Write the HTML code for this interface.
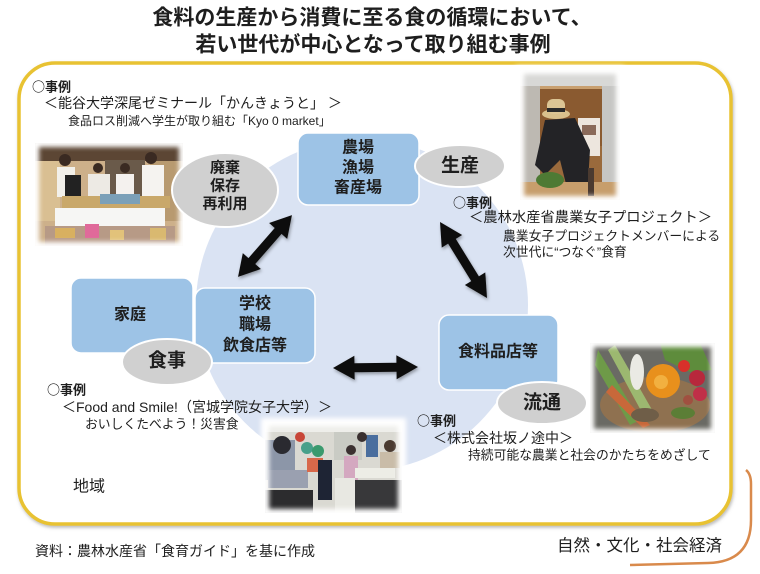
<!DOCTYPE html>
<html><head><meta charset="utf-8"><style>
html,body{margin:0;padding:0;background:#fff;}
body{width:760px;height:574px;overflow:hidden;}
svg{display:block;}
text{font-family:"Liberation Sans","Noto Sans CJK JP",sans-serif;fill:#1e1e1e;}
.b{font-weight:bold;}
.cj{font-family:"Noto Sans CJK JP",sans-serif;}
</style></head><body>
<svg width="760" height="574" viewBox="0 0 760 574" xmlns="http://www.w3.org/2000/svg">
<defs>
  <filter id="fb" x="-20%" y="-20%" width="140%" height="140%"><feGaussianBlur stdDeviation="3"/></filter>
  <filter id="fw" x="-20%" y="-20%" width="140%" height="140%"><feGaussianBlur stdDeviation="2.5"/></filter>
  <filter id="sh" x="-10%" y="-10%" width="120%" height="120%"><feDropShadow dx="1" dy="2" stdDeviation="1.5" flood-color="#000" flood-opacity="0.35"/></filter>
  <filter id="sh2" x="-5%" y="-5%" width="110%" height="110%"><feDropShadow dx="1" dy="2" stdDeviation="1.5" flood-color="#777" flood-opacity="0.5"/></filter>
  <clipPath id="c1"><rect x="35" y="143" width="148" height="103"/></clipPath>
  <clipPath id="c2"><rect x="520" y="70" width="100" height="130"/></clipPath>
  <clipPath id="c3"><rect x="590" y="343" width="125" height="90"/></clipPath>
  <clipPath id="c4"><rect x="265" y="422" width="137" height="91"/></clipPath>
</defs>

<!-- Title -->
<text class="b" x="372" y="18" font-size="21" text-anchor="middle" dominant-baseline="central">食料の生産から消費に至る食の循環において、</text>
<text class="b" x="373" y="45" font-size="21" text-anchor="middle" dominant-baseline="central">若い世代が中心となって取り組む事例</text>

<!-- orange curve -->
<path d="M746 470 Q751 474 751 484 L751 520 Q751 562 708 563 L630 565" fill="none" stroke="#D98A4C" stroke-width="2.5"/>

<!-- frame -->
<rect x="19" y="63" width="712" height="461" rx="36" ry="36" fill="#fff" stroke="#E8C230" stroke-width="3.5" filter="url(#sh2)"/>

<!-- big circle -->
<circle cx="362" cy="305" r="166" fill="#DAE3F3"/>

<!-- Photo 1 -->
<g clip-path="url(#c1)">
  <rect x="35" y="143" width="148" height="103" fill="#CDB08A"/>
  <rect x="35" y="143" width="148" height="18" fill="#5C4634"/>
  <rect x="35" y="161" width="25" height="60" fill="#D9BF92"/>
  <rect x="150" y="161" width="33" height="60" fill="#B89A70"/>
  <rect x="105" y="160" width="40" height="40" fill="#6A5A4A"/>
  <circle cx="65" cy="160" r="6" fill="#3a2a22"/>
  <rect x="57" y="167" width="18" height="30" fill="#F2F0EA"/>
  <rect x="65" y="175" width="16" height="26" fill="#222"/>
  <circle cx="98" cy="168" r="5" fill="#3a2a22"/>
  <rect x="88" y="174" width="22" height="25" fill="#EDEAE4"/>
  <circle cx="125" cy="168" r="5" fill="#3a2a22"/>
  <rect x="116" y="174" width="18" height="24" fill="#F4F1EE"/>
  <circle cx="151" cy="158" r="6" fill="#3a2a22"/>
  <rect x="142" y="165" width="22" height="36" fill="#F5F3F0"/>
  <rect x="62" y="196" width="108" height="12" fill="#C9A86A"/>
  <rect x="100" y="194" width="40" height="10" fill="#7BA0B8"/>
  <rect x="55" y="208" width="110" height="20" fill="#F6F6F4"/>
  <rect x="45" y="226" width="130" height="20" fill="#B79A86"/>
  <rect x="55" y="228" width="20" height="10" fill="#D8B060"/>
  <rect x="85" y="224" width="14" height="14" fill="#E06A9A"/>
  <rect x="110" y="230" width="14" height="10" fill="#E2C27A"/>
  <rect x="150" y="228" width="16" height="12" fill="#D9B970"/>
</g>
<rect x="35" y="143" width="148" height="103" fill="none" stroke="#fff" stroke-width="8" filter="url(#fw)"/>

<!-- Photo 2 -->
<g clip-path="url(#c2)">
  <rect x="520" y="70" width="100" height="130" fill="#B7B4AE"/>
  <rect x="520" y="70" width="100" height="16" fill="#D8D8D6"/>
  <rect x="540" y="86" width="62" height="60" fill="#8A5A30"/>
  <rect x="540" y="86" width="62" height="3" fill="#c9a070"/>
  <rect x="602" y="86" width="18" height="100" fill="#C6C6C4"/>
  <rect x="520" y="86" width="20" height="100" fill="#BDB9B2"/>
  <rect x="540" y="146" width="62" height="40" fill="#9A6A3C"/>
  <rect x="578" y="118" width="22" height="38" fill="#EDE6DE"/>
  <rect x="582" y="125" width="14" height="10" fill="#8a6a5a"/>
  <ellipse cx="556" cy="114" rx="14" ry="5" fill="#D9C08C"/>
  <rect x="547" y="99" width="18" height="15" rx="6" fill="#DCC594"/>
  <rect x="547" y="108" width="18" height="4" fill="#2a2a2a"/>
  <path d="M545 120 L575 118 L590 150 L588 182 L566 184 L560 160 L545 175 L535 165 Z" fill="#232326"/>
  <rect x="520" y="182" width="100" height="18" fill="#C79E6C"/>
  <ellipse cx="550" cy="180" rx="14" ry="8" fill="#4E7A34"/>
  <rect x="588" y="168" width="6" height="28" fill="#4a3a30"/>
</g>
<rect x="520" y="70" width="100" height="130" fill="none" stroke="#fff" stroke-width="8" filter="url(#fw)"/>

<!-- Photo 3 -->
<g clip-path="url(#c3)">
  <rect x="590" y="343" width="125" height="90" fill="#6A6A64"/>
  <ellipse cx="655" cy="405" rx="55" ry="28" fill="#8F7150"/>
  <path d="M598 350 L640 420 L630 425 L595 365 Z" fill="#6E9A48"/>
  <path d="M615 345 L655 415 L645 418 L608 350 Z" fill="#9CB870"/>
  <path d="M612 385 L650 425 L643 428 L606 392 Z" fill="#C8683A"/>
  <ellipse cx="637" cy="372" rx="7" ry="18" fill="#EAEAE4"/>
  <path d="M660 343 L700 343 L712 370 L690 372 L665 360 Z" fill="#5E8C3C"/>
  <circle cx="663" cy="381" r="17" fill="#E8901C"/>
  <circle cx="661" cy="382" r="7" fill="#F2B040"/>
  <circle cx="684" cy="366" r="6" fill="#D8302A"/>
  <circle cx="697" cy="378" r="8" fill="#B8283C"/>
  <circle cx="700" cy="394" r="7" fill="#C03048"/>
  <circle cx="688" cy="400" r="5" fill="#A05040"/>
  <ellipse cx="645" cy="415" rx="14" ry="7" fill="#6F5E48"/>
  <ellipse cx="683" cy="413" rx="12" ry="6" fill="#5B7E36"/>
</g>
<rect x="590" y="343" width="125" height="90" fill="none" stroke="#fff" stroke-width="8" filter="url(#fw)"/>

<!-- Photo 4 -->
<g clip-path="url(#c4)">
  <rect x="265" y="422" width="137" height="91" fill="#DAD9D2"/>
  <rect x="265" y="422" width="137" height="10" fill="#EEEEEA"/>
  <rect x="334" y="432" width="28" height="28" fill="#C9CBC4"/>
  <rect x="366" y="435" width="12" height="22" fill="#4A6E9E"/>
  <rect x="265" y="440" width="30" height="40" fill="#8C96A8"/>
  <circle cx="282" cy="445" r="9" fill="#2A2A30"/>
  <rect x="268" y="470" width="40" height="18" fill="#9AA0B0"/>
  <circle cx="300" cy="437" r="5" fill="#C84638"/>
  <circle cx="307" cy="448" r="6" fill="#47A08A"/>
  <circle cx="318" cy="451" r="6" fill="#3A9A6E"/>
  <rect x="307" y="458" width="16" height="14" fill="#D8684A"/>
  <rect x="318" y="460" width="14" height="40" fill="#1E2434"/>
  <circle cx="351" cy="450" r="5" fill="#3A3030"/>
  <rect x="344" y="456" width="14" height="24" fill="#D4A8C0"/>
  <rect x="346" y="480" width="10" height="18" fill="#2A2A2A"/>
  <circle cx="362" cy="437" r="5" fill="#3a3030"/>
  <circle cx="390" cy="446" r="6" fill="#4A3A30"/>
  <rect x="380" y="452" width="20" height="16" fill="#C9BCA8"/>
  <rect x="355" y="468" width="40" height="10" fill="#EDEDE6"/>
  <rect x="265" y="490" width="48" height="23" fill="#2C2C2E"/>
  <rect x="355" y="480" width="47" height="33" fill="#38383A"/>
  <rect x="335" y="478" width="20" height="35" fill="#E8E8E2"/>
</g>
<rect x="265" y="422" width="137" height="91" fill="none" stroke="#fff" stroke-width="8" filter="url(#fw)"/>

<!-- boxes -->
<rect x="298" y="133" width="121" height="72" rx="10" fill="#9DC3E6" stroke="#fff" stroke-width="1.5"/>
<rect x="71" y="278" width="122" height="75" rx="10" fill="#9DC3E6" stroke="#fff" stroke-width="1.5"/>
<rect x="195" y="288" width="120" height="75" rx="10" fill="#9DC3E6" stroke="#fff" stroke-width="1.5"/>
<rect x="439" y="315" width="119" height="75" rx="10" fill="#9DC3E6" stroke="#fff" stroke-width="1.5"/>

<!-- ellipses -->
<ellipse cx="460" cy="166" rx="45" ry="21" fill="#D0D0D0" stroke="#fff" stroke-width="2"/>
<ellipse cx="225" cy="190" rx="53" ry="37" fill="#D0D0D0" stroke="#fff" stroke-width="2"/>
<ellipse cx="167" cy="362" rx="45" ry="23" fill="#D0D0D0" stroke="#fff" stroke-width="2"/>
<ellipse cx="542" cy="403" rx="45" ry="21" fill="#D0D0D0" stroke="#fff" stroke-width="2"/>

<!-- arrows -->
<g fill="#111" filter="url(#sh)">
  <polygon transform="translate(265,246) rotate(-48.9)" points="-41,0 -20,-12 -20,-4.5 20,-4.5 20,-12 41,0 20,12 20,4.5 -20,4.5 -20,12"/>
  <polygon transform="translate(463.5,260) rotate(58.3)" points="-44.7,0 -22,-12 -22,-4.5 22,-4.5 22,-12 44.7,0 22,12 22,4.5 -22,4.5 -22,12"/>
  <polygon transform="translate(375.5,367.5) rotate(-0.7)" points="-42.5,0 -21,-12 -21,-4.5 21,-4.5 21,-12 42.5,0 21,12 21,4.5 -21,4.5 -21,12"/>
</g>

<!-- box labels -->
<text class="b" x="358" y="148" text-anchor="middle" dominant-baseline="central" font-size="16">農場</text>
<text class="b" x="358" y="168" text-anchor="middle" dominant-baseline="central" font-size="16">漁場</text>
<text class="b" x="358" y="188" text-anchor="middle" dominant-baseline="central" font-size="16">畜産場</text>
<text class="b" x="130" y="315" text-anchor="middle" dominant-baseline="central" font-size="16">家庭</text>
<text class="b" x="255" y="304" text-anchor="middle" dominant-baseline="central" font-size="16">学校</text>
<text class="b" x="255" y="325" text-anchor="middle" dominant-baseline="central" font-size="16">職場</text>
<text class="b" x="255" y="346" text-anchor="middle" dominant-baseline="central" font-size="16">飲食店等</text>
<text class="b" x="498" y="352" text-anchor="middle" dominant-baseline="central" font-size="16">食料品店等</text>
<text class="b" x="460" y="166" text-anchor="middle" dominant-baseline="central" font-size="19">生産</text>
<text class="b" x="167" y="361" text-anchor="middle" dominant-baseline="central" font-size="19">食事</text>
<text class="b" x="542" y="403" text-anchor="middle" dominant-baseline="central" font-size="19">流通</text>
<text class="b" x="225" y="168" text-anchor="middle" dominant-baseline="central" font-size="15">廃棄</text>
<text class="b" x="225" y="186" text-anchor="middle" dominant-baseline="central" font-size="15">保存</text>
<text class="b" x="225" y="204" text-anchor="middle" dominant-baseline="central" font-size="15">再利用</text>

<!-- example text blocks -->
<text class="b cj" x="32" y="86" font-size="13" dominant-baseline="central">○事例</text>
<text x="44" y="103" font-size="14" dominant-baseline="central">＜能谷大学深尾ゼミナール「かんきょうと」 ＞</text>
<text x="68" y="121" font-size="12" dominant-baseline="central">食品ロス削減へ学生が取り組む「Kyo 0 market」</text>

<text class="b cj" x="453" y="202" font-size="13" dominant-baseline="central">○事例</text>
<text x="469" y="218" font-size="14.3" dominant-baseline="central">＜農林水産省農業女子プロジェクト＞</text>
<text x="503" y="236" font-size="12.8" dominant-baseline="central">農業女子プロジェクトメンバーによる</text>
<text x="503" y="252" font-size="12.8" dominant-baseline="central">次世代に“つなぐ”食育</text>

<text class="b cj" x="47" y="389" font-size="13" dominant-baseline="central">○事例</text>
<text x="62" y="407" font-size="14" dominant-baseline="central">＜Food and Smile!（宮城学院女子大学）＞</text>
<text x="85" y="424" font-size="12.8" dominant-baseline="central">おいしくたべよう！災害食</text>

<text class="b cj" x="417" y="420" font-size="13" dominant-baseline="central">○事例</text>
<text x="433" y="438" font-size="14" dominant-baseline="central">＜株式会社坂ノ途中＞</text>
<text x="468" y="455" font-size="12.8" dominant-baseline="central">持続可能な農業と社会のかたちをめざして</text>

<text x="73" y="487" font-size="16" dominant-baseline="central">地域</text>
<text x="35" y="551" font-size="14" dominant-baseline="central">資料：農林水産省「食育ガイド」を基に作成</text>
<text x="557" y="546" font-size="16.5" dominant-baseline="central">自然・文化・社会経済</text>
</svg>
</body></html>
